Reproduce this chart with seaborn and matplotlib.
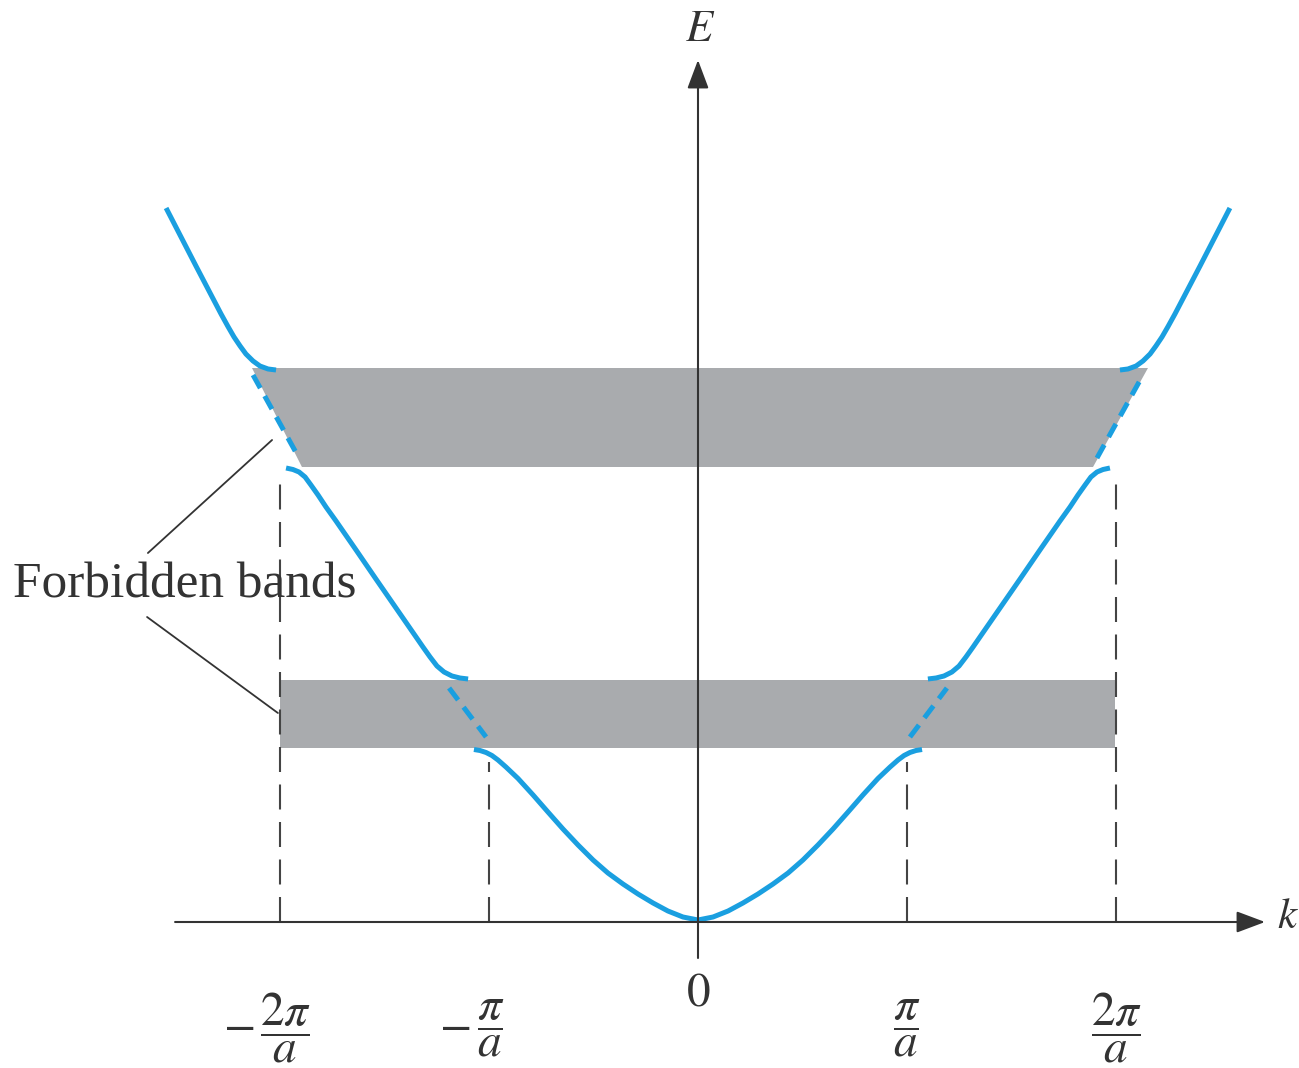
import numpy as np
import pandas as pd
import matplotlib
matplotlib.use("Agg")
import matplotlib.pyplot as plt
import seaborn as sns

# ---------------- data (k in units of pi/a, E in arbitrary units) ----------------
# right half of each allowed band (mirrored for the left half)
band1_k = [0.000, 0.072, 0.144, 0.215, 0.287, 0.359, 0.431, 0.502, 0.574, 0.646, 0.718,
           0.789, 0.861, 0.919, 0.957, 0.986, 1.014, 1.043, 1.072]
band1_E = [0.020, 0.050, 0.110, 0.190, 0.280, 0.380, 0.490, 0.620, 0.770, 0.930, 1.100,
           1.270, 1.435, 1.550, 1.620, 1.665, 1.695, 1.715, 1.725]

band2_k = [1.100, 1.139, 1.177, 1.215, 1.249, 1.282, 1.316, 1.349, 1.445, 1.541, 1.636,
           1.732, 1.780, 1.818, 1.852, 1.880, 1.909, 1.938, 1.971]
band2_E = [2.43, 2.44, 2.46, 2.50, 2.56, 2.65, 2.75, 2.85, 3.14, 3.43, 3.72,
           4.01, 4.15, 4.27, 4.37, 4.45, 4.50, 4.525, 4.54]

band3_k = [2.019, 2.057, 2.096, 2.129, 2.163, 2.191, 2.220, 2.249, 2.282, 2.402, 2.545]
band3_E = [5.52, 5.53, 5.56, 5.61, 5.68, 5.76, 5.85, 5.955, 6.08, 6.56, 7.14]

# free-electron continuation inside the gaps (dashed)
gap1_k = [1.014, 1.191]
gap1_E = [1.85, 2.34]
gap2_k = [1.909, 2.129]
gap2_E = [4.64, 5.47]

# forbidden bands
lower_gap_k = [-2.0, 1.995]
lower_gap_E = [1.74, 2.42]
upper_gap_k = [-2.134, 2.153, 1.890, -1.895]
upper_gap_E = [5.54, 5.54, 4.55, 4.55]

# zone boundaries
zone_k = [-2, -1, 1, 2]
zone_top = [4.39, 1.60, 1.60, 4.39]

# tick labels
frac_labels = [r"$\dfrac{2\pi}{a}$", r"$\dfrac{\pi}{a}$", r"$\dfrac{\pi}{a}$", r"$\dfrac{2\pi}{a}$"]
frac_pos = [-1.976, -0.993, 1.0, 2.0]
minus_pos = [-2.196, -1.163]
zero_label = r"$0$"

BLUE = "#1a9fe0"
GRAY = "#a9abae"
DARK = "#333333"

sns.set_theme(style="white")
plt.rcParams["mathtext.fontset"] = "stix"
plt.rcParams["font.family"] = ["Liberation Serif", "DejaVu Serif"]

fig = plt.figure(figsize=(12.99, 10.68), dpi=100)
ax = fig.add_axes([0, 0, 1, 1])
ax.set_xlim(-3.3397, 2.8756)
ax.set_ylim(-1.46, 9.22)
ax.axis("off")

# forbidden bands
ax.fill_between(lower_gap_k, lower_gap_E[0], lower_gap_E[1], color=GRAY, lw=0, zorder=1)
ax.fill(upper_gap_k, upper_gap_E, color=GRAY, lw=0, zorder=1)

# zone-boundary dashed verticals
for kk, top in zip(zone_k, zone_top):
    ax.plot([kk, kk], [0, top], color="#444444", lw=1.5, ls=(0, (12, 6)), zorder=2)


def mirror(k, E):
    k = np.asarray(k)
    E = np.asarray(E)
    return -k[::-1], E[::-1]


# allowed bands (solid)
k1 = np.concatenate([-np.asarray(band1_k)[::-1], np.asarray(band1_k)[1:]])
E1 = np.concatenate([np.asarray(band1_E)[::-1], np.asarray(band1_E)[1:]])
segments = [(k1, E1), (band2_k, band2_E), mirror(band2_k, band2_E),
            (band3_k, band3_E), mirror(band3_k, band3_E)]
for kk, EE in segments:
    df = pd.DataFrame({"k": kk, "E": EE})
    sns.lineplot(data=df, x="k", y="E", sort=False, estimator=None, ax=ax,
                 color=BLUE, lw=3.6, zorder=3, solid_capstyle="butt",
                 solid_joinstyle="round")

# free-electron dashes inside gaps
for kk, EE in [(gap1_k, gap1_E), mirror(gap1_k, gap1_E), (gap2_k, gap2_E), mirror(gap2_k, gap2_E)]:
    ax.plot(kk, EE, color=BLUE, lw=3.6, ls=(0, (3.0, 1.8)), dash_capstyle="butt", zorder=3)

# axes with arrows
arrow = dict(arrowstyle="-|>,head_length=0.8,head_width=0.3", mutation_scale=22,
             lw=1.5, color=DARK, shrinkA=0, shrinkB=0)
ax.annotate("", xy=(2.713, 0), xytext=(-2.502, 0), arrowprops=arrow, zorder=4)
ax.annotate("", xy=(0, 8.62), xytext=(0, -0.36), arrowprops=arrow, zorder=4)

ax.text(0.01, 8.92, r"$E$", fontsize=32, ha="center", va="center", color=DARK)
ax.text(2.768, 0.04, r"$k$", fontsize=31, ha="left", va="center", color=DARK)

# tick labels
ax.text(0.0, -0.72, zero_label, fontsize=34, ha="center", va="center", color=DARK)
for pos, lab in zip(frac_pos, frac_labels):
    ax.text(pos, -1.06, lab, fontsize=34, ha="center", va="center", color=DARK)
for pos in minus_pos:
    ax.text(pos, -1.05, r"$-$", fontsize=34, ha="center", va="center", color=DARK)

# annotation
ax.text(-3.278, 3.37, "Forbidden bands", fontsize=37, ha="left", va="center", color=DARK)
ax.plot([-2.632, -2.038], [3.69, 4.82], color=DARK, lw=1.3, zorder=4)
ax.plot([-2.636, -2.010], [3.05, 2.09], color=DARK, lw=1.3, zorder=4)

fig.savefig("out.png", dpi=100, facecolor="white")
